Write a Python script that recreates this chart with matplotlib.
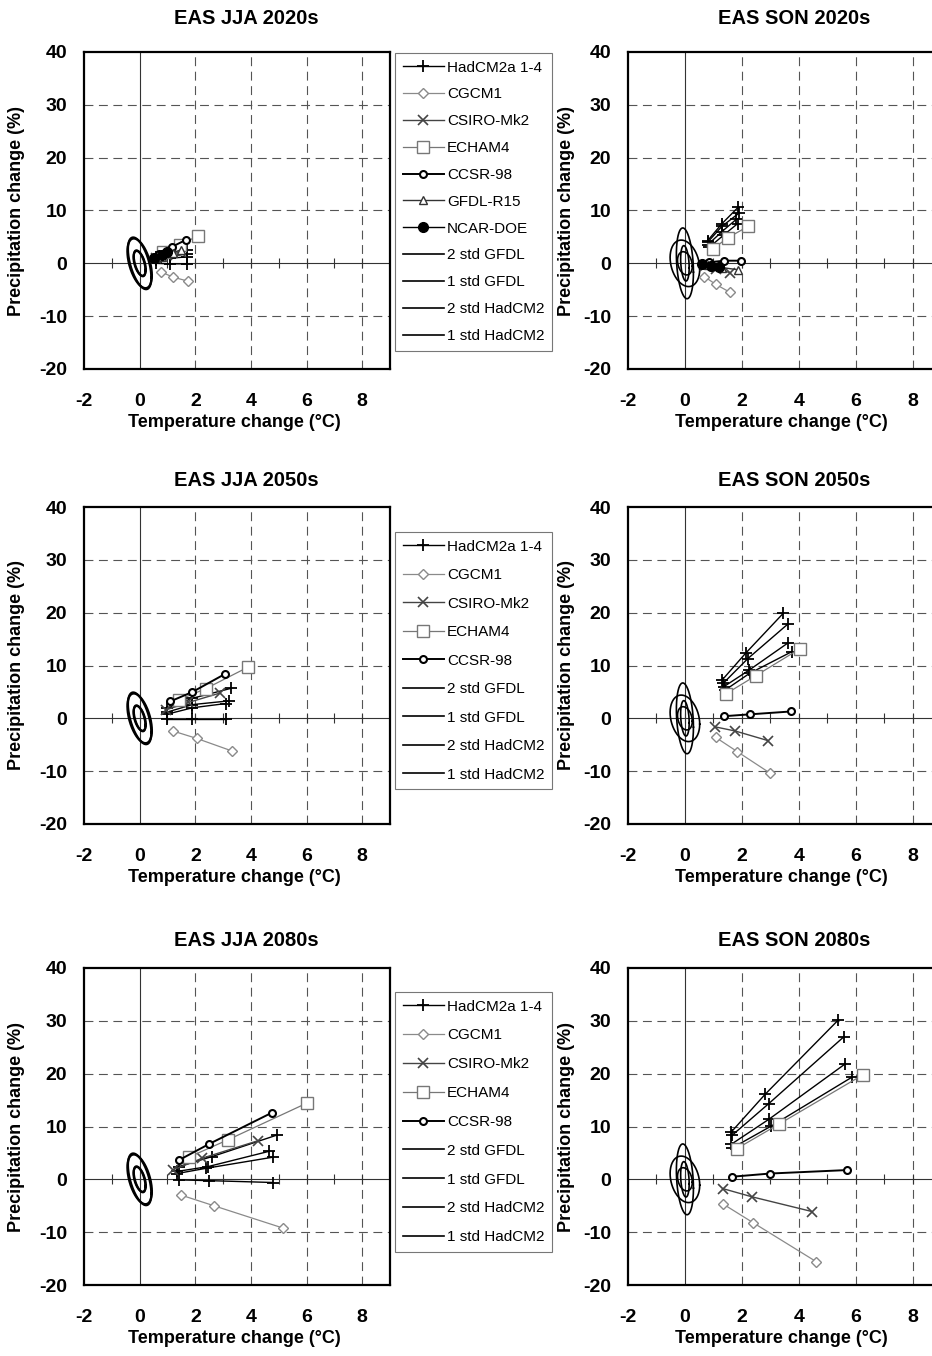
import numpy as np
import matplotlib.pyplot as plt
from matplotlib.lines import Line2D

plt.rcParams['font.family'] = ['Liberation Sans', 'DejaVu Sans']
plt.rcParams['axes.unicode_minus'] = False

# ---- data: (temperature change, precipitation change) for three scenario points ----
# JJA 2020s
jja20_hadcm2 = [[(0.6, 0.0), (1.1, -0.1), (1.7, -0.1)],
                [(0.6, 1.2), (1.1, 2.0), (1.7, 2.6)],
                [(0.6, 0.8), (1.1, 1.3), (1.7, 1.8)],
                [(0.6, 0.6), (1.1, 1.0), (1.7, 1.2)]]
jja20_cgcm1 = [(0.75, -1.6), (1.2, -2.6), (1.75, -3.4)]
jja20_csiro = [(0.6, 1.0), (1.0, 1.5), (1.5, 2.2)]
jja20_echam4 = [(0.85, 2.2), (1.45, 3.5), (2.1, 5.2)]
jja20_ccsr = [(0.7, 1.8), (1.15, 3.1), (1.65, 4.4)]
jja20_gfdl = [(0.8, 1.2), (1.2, 2.0), (1.5, 2.6)]
jja20_ncar = [(0.5, 1.0), (0.8, 1.6), (1.0, 2.2)]

# SON 2020s
son20_hadcm2 = [[(0.8, 4.3), (1.3, 7.5), (1.87, 10.6)],
                [(0.8, 4.0), (1.3, 7.0), (1.9, 9.5)],
                [(0.8, 3.5), (1.3, 6.0), (1.8, 8.3)],
                [(0.85, 3.0), (1.35, 5.3), (1.85, 7.5)]]
son20_cgcm1 = [(0.68, -2.5), (1.09, -4.0), (1.59, -5.5)]
son20_csiro = [(0.7, -0.5), (1.1, -1.0), (1.6, -1.8)]
son20_echam4 = [(0.97, 2.7), (1.5, 4.8), (2.22, 7.0)]
son20_ccsr = [(0.85, 0.2), (1.38, 0.5), (1.97, 0.5)]
son20_gfdl = [(0.8, -0.3), (1.3, -0.8), (1.85, -1.2)]
son20_ncar = [(0.6, -0.2), (0.9, -0.5), (1.2, -0.6)]

# JJA 2050s
jja50_hadcm2 = [[(1.0, -0.1), (1.9, -0.1), (3.1, -0.1)],
                [(1.0, 2.0), (1.9, 3.8), (3.3, 5.7)],
                [(1.0, 1.2), (1.9, 2.6), (3.2, 3.3)],
                [(1.0, 0.8), (1.9, 2.0), (3.1, 2.8)]]
jja50_cgcm1 = [(1.2, -2.4), (2.05, -3.8), (3.33, -6.2)]
jja50_csiro = [(0.95, 1.6), (1.75, 3.0), (2.9, 4.8)]
jja50_echam4 = [(1.4, 3.5), (2.37, 5.6), (3.9, 9.7)]
jja50_ccsr = [(1.1, 3.2), (1.9, 5.0), (3.07, 8.4)]

# SON 2050s
son50_hadcm2 = [[(1.3, 7.2), (2.13, 12.3), (3.46, 19.9)],
                [(1.34, 6.6), (2.21, 11.3), (3.63, 17.9)],
                [(1.37, 6.0), (2.25, 9.1), (3.63, 14.3)],
                [(1.4, 5.3), (2.27, 8.5), (3.75, 12.6)]]
son50_cgcm1 = [(1.08, -3.6), (1.84, -6.3), (3.0, -10.4)]
son50_csiro = [(1.05, -1.6), (1.77, -2.4), (2.91, -4.2)]
son50_echam4 = [(1.46, 4.7), (2.5, 8.1), (4.05, 13.2)]
son50_ccsr = [(1.37, 0.4), (2.27, 0.75), (3.73, 1.3)]

# JJA 2080s
jja80_hadcm2 = [[(1.4, -0.1), (2.5, -0.25), (4.8, -0.6)],
                [(1.4, 2.4), (2.6, 4.3), (4.95, 8.4)],
                [(1.35, 1.5), (2.45, 2.4), (4.65, 5.3)],
                [(1.35, 1.1), (2.4, 2.1), (4.8, 4.2)]]
jja80_cgcm1 = [(1.5, -3.0), (2.67, -5.0), (5.14, -9.2)]
jja80_csiro = [(1.2, 1.8), (2.25, 4.0), (4.25, 7.3)]
jja80_echam4 = [(1.77, 4.2), (3.18, 7.5), (6.0, 14.4)]
jja80_ccsr = [(1.4, 3.6), (2.5, 6.7), (4.75, 12.6)]

# SON 2080s
son80_hadcm2 = [[(1.62, 8.9), (2.82, 16.1), (5.38, 30.1)],
                [(1.65, 8.3), (2.94, 14.3), (5.59, 27.0)],
                [(1.62, 6.6), (2.96, 11.4), (5.62, 21.8)],
                [(1.65, 5.9), (3.04, 10.1), (5.86, 19.3)]]
son80_cgcm1 = [(1.35, -4.7), (2.41, -8.25), (4.62, -15.6)]
son80_csiro = [(1.33, -1.75), (2.35, -3.3), (4.47, -6.1)]
son80_echam4 = [(1.82, 5.8), (3.29, 10.4), (6.26, 19.8)]
son80_ccsr = [(1.67, 0.5), (3.0, 1.1), (5.68, 1.75)]

# natural variability: std of temperature, std of precipitation, correlation
gfdl_jja_std = [0.21, 2.45, -0.55]
hadcm2_jja_std = [0.22, 2.35, -0.48]
gfdl_son_std = [0.15, 3.35, -0.25]
hadcm2_son_std = [0.26, 2.2, -0.25]

x_ticks = [-2, 0, 2, 4, 6, 8]
y_ticks = [-20, -10, 0, 10, 20, 30, 40]

titles = ['EAS JJA 2020s', 'EAS SON 2020s', 'EAS JJA 2050s',
          'EAS SON 2050s', 'EAS JJA 2080s', 'EAS SON 2080s']

styles = {
    'HadCM2a 1-4': dict(color='black', marker='+', ms=9, mew=1.3, lw=1.0),
    'CGCM1': dict(color='#8a8a8a', marker='D', ms=5, mfc='white', mew=1.0, lw=0.9),
    'CSIRO-Mk2': dict(color='#444444', marker='x', ms=7, mew=1.2, lw=1.0),
    'ECHAM4': dict(color='#777777', marker='s', ms=8, mfc='white', mew=1.0, lw=0.9),
    'CCSR-98': dict(color='black', marker='o', ms=5, mfc='white', mew=1.5, lw=1.4),
    'GFDL-R15': dict(color='#333333', marker='^', ms=6, mfc='white', mew=1.0, lw=1.0),
    'NCAR-DOE': dict(color='black', marker='o', ms=7, lw=1.0),
}

W, H = 932, 1356
fig = plt.figure(figsize=(W / 100, H / 100), dpi=100)

col_left = [84, 628]
col_width = [306, 313]
row_top = [52, 507, 968]
row_h = 317
title_gap = [34, 27, 27]
legend_top = [53, 532, 992]
legend_spacing = [0.84, 0.95, 0.97]


def ellipse(ax, std, k, lw):
    sx, sy, rho = std
    t = np.linspace(0, 2 * np.pi, 200)
    x = k * sx * np.cos(t)
    y = k * sy * (rho * np.cos(t) + np.sqrt(1 - rho ** 2) * np.sin(t))
    ax.plot(x, y, color='black', lw=lw, zorder=3)


def draw_panel(ax, title, tgap, models, stds, lw_ell):
    ax.set_xlim(-2, 9)
    ax.set_ylim(-20, 40)
    for v in x_ticks[1:]:
        if v == 0:
            ax.axvline(v, color='#333333', lw=0.8, zorder=1)
        else:
            ax.axvline(v, color='#555555', lw=0.8, ls=(0, (8, 5)), zorder=1)
    for v in y_ticks[1:-1]:
        if v == 0:
            ax.axhline(v, color='#333333', lw=0.8, zorder=1)
        else:
            ax.axhline(v, color='#555555', lw=0.8, ls=(0, (8, 5)), zorder=1)
    # small marks on the zero line
    ax.plot(np.arange(-1, 9), np.zeros(10), ls='none', marker='|', ms=7,
            mew=0.8, color='#333333', zorder=1)

    for s in stds:
        ellipse(ax, s, 2, lw_ell)
        ellipse(ax, s, 1, lw_ell)

    for name, pts in models:
        st = styles[name]
        lines = pts if name == 'HadCM2a 1-4' else [pts]
        for ln in lines:
            xs = [p[0] for p in ln]
            ys = [p[1] for p in ln]
            ax.plot(xs, ys, zorder=4, **st)

    ax.set_xticks(x_ticks)
    ax.set_yticks(y_ticks)
    ax.tick_params(length=0, labelsize=14)
    ax.tick_params(axis='x', pad=17)
    ax.tick_params(axis='y', pad=12)
    for lab in ax.get_xticklabels() + ax.get_yticklabels():
        lab.set_fontweight('bold')
    for sp in ax.spines.values():
        sp.set_linewidth(1.6)
    ax.set_xlabel('Temperature change (°C)', fontsize=13, fontweight='bold')
    ax.set_ylabel('Precipitation change (%)', fontsize=13, fontweight='bold')
    ax.xaxis.set_label_coords(0.49, -45 / row_h, transform=ax.transAxes)
    ax.text(0.53, 1 + tgap / row_h, title, transform=ax.transAxes,
            ha='center', va='center', fontsize=14.5, fontweight='bold')


panels = [
    [('HadCM2a 1-4', jja20_hadcm2), ('CGCM1', jja20_cgcm1), ('CSIRO-Mk2', jja20_csiro),
     ('ECHAM4', jja20_echam4), ('CCSR-98', jja20_ccsr), ('GFDL-R15', jja20_gfdl),
     ('NCAR-DOE', jja20_ncar)],
    [('HadCM2a 1-4', son20_hadcm2), ('CGCM1', son20_cgcm1), ('CSIRO-Mk2', son20_csiro),
     ('ECHAM4', son20_echam4), ('CCSR-98', son20_ccsr), ('GFDL-R15', son20_gfdl),
     ('NCAR-DOE', son20_ncar)],
    [('HadCM2a 1-4', jja50_hadcm2), ('CGCM1', jja50_cgcm1), ('CSIRO-Mk2', jja50_csiro),
     ('ECHAM4', jja50_echam4), ('CCSR-98', jja50_ccsr)],
    [('HadCM2a 1-4', son50_hadcm2), ('CGCM1', son50_cgcm1), ('CSIRO-Mk2', son50_csiro),
     ('ECHAM4', son50_echam4), ('CCSR-98', son50_ccsr)],
    [('HadCM2a 1-4', jja80_hadcm2), ('CGCM1', jja80_cgcm1), ('CSIRO-Mk2', jja80_csiro),
     ('ECHAM4', jja80_echam4), ('CCSR-98', jja80_ccsr)],
    [('HadCM2a 1-4', son80_hadcm2), ('CGCM1', son80_cgcm1), ('CSIRO-Mk2', son80_csiro),
     ('ECHAM4', son80_echam4), ('CCSR-98', son80_ccsr)],
]

for i in range(6):
    r, c = divmod(i, 2)
    left = col_left[c] / W
    width = col_width[c] / W
    bottom = 1 - (row_top[r] + row_h) / H
    ax = fig.add_axes([left, bottom, width, row_h / H])
    ax.set_facecolor('white')
    if c == 0:
        stds, lw_ell = [gfdl_jja_std, hadcm2_jja_std], 1.6
    else:
        stds, lw_ell = [gfdl_son_std, hadcm2_son_std], 1.2
    draw_panel(ax, titles[i], title_gap[r], panels[i], stds, lw_ell)
    if c == 0:
        ax.yaxis.set_label_coords(-59 / col_width[c], 0.5)
    else:
        ax.yaxis.set_label_coords(-53 / col_width[c], 0.5)

    if c == 0:
        handles = []
        for name, _ in panels[i]:
            st = dict(styles[name])
            handles.append(Line2D([], [], label=name, **st))
        for name in ['2 std GFDL', '1 std GFDL', '2 std HadCM2', '1 std HadCM2']:
            handles.append(Line2D([], [], color='black', lw=1.2, label=name))
        leg = ax.legend(handles=handles, loc='upper left',
                        bbox_to_anchor=(395 / W, 1 - legend_top[r] / H),
                        bbox_transform=fig.transFigure, fontsize=11,
                        handlelength=2.7, handletextpad=0.2,
                        labelspacing=legend_spacing[r],
                        borderpad=0.5, borderaxespad=0, fancybox=False,
                        edgecolor='#777777', framealpha=1, numpoints=1)
        leg.get_frame().set_linewidth(0.8)

fig.savefig('out.png', dpi=100)
